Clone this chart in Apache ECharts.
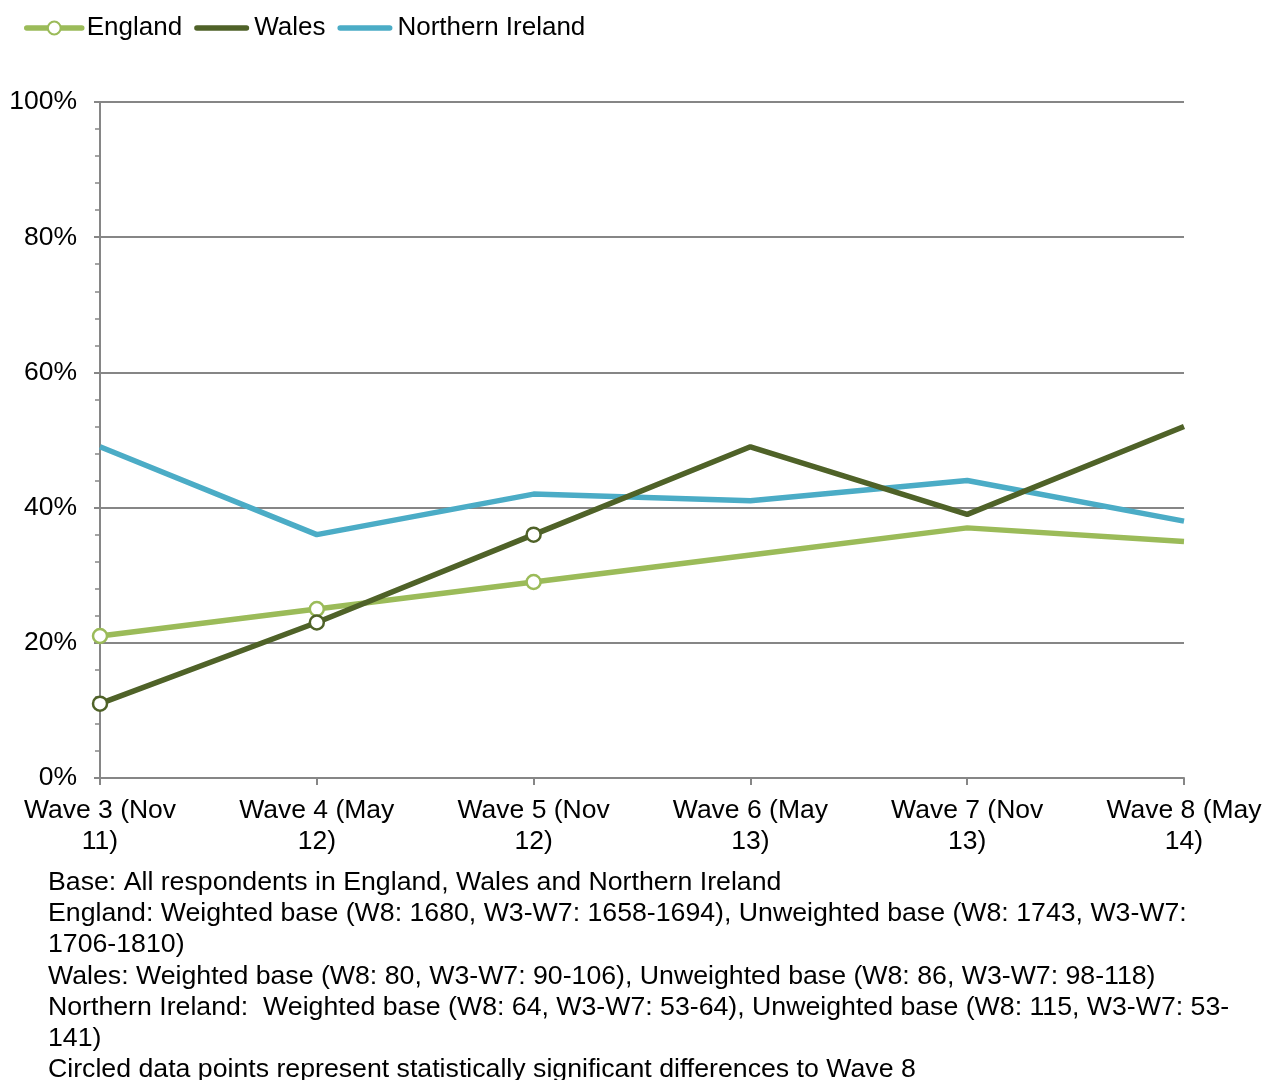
<!DOCTYPE html>
<html>
<head>
<meta charset="utf-8">
<script src="https://cdn.jsdelivr.net/npm/echarts@6/dist/echarts.min.js"></script>
<style>
  html, body { margin: 0; padding: 0; background: #fff; }
  #chart { width: 1265px; height: 1080px; }
</style>
</head>
<body>
<div id="chart"></div>
<script>
// Survey waves (x axis)
const waves = ['Wave 3 (Nov\n11)', 'Wave 4 (May\n12)', 'Wave 5 (Nov\n12)', 'Wave 6 (May\n13)', 'Wave 7 (Nov\n13)', 'Wave 8 (May\n14)'];

// Percentages per nation
const england = [21, 25, 29, 33, 37, 35];
const wales = [11, 23, 36, 49, 39, 52];
const northernIreland = [49, 36, 42, 41, 44, 38];

// Which points are significantly different from Wave 8 (drawn circled)
const englandCircled = [true, true, true, false, false, false];
const walesCircled = [true, true, true, false, false, false];

const footnotes = [
  'Base: All respondents in England, Wales and Northern Ireland',
  'England: Weighted base (W8: 1680, W3-W7: 1658-1694), Unweighted base (W8: 1743, W3-W7:\n1706-1810)',
  'Wales: Weighted base (W8: 80, W3-W7: 90-106), Unweighted base (W8: 86, W3-W7: 98-118)',
  'Northern Ireland:  Weighted base (W8: 64, W3-W7: 53-64), Unweighted base (W8: 115, W3-W7: 53-\n141)',
  'Circled data points represent statistically significant differences to Wave 8'
];

const FONT = 'Liberation Sans, Arial, sans-serif';
const GREY = '#868686';
const C_ENG = '#9BBB59';
const C_WAL = '#4F6228';
const C_NI = '#4BACC6';

// Plain rounded bar used as legend key for series without markers
const BAR_ICON = 'path://M2.75,0 L52.25,0 A2.75,2.75 0 0 1 52.25,5.5 L2.75,5.5 A2.75,2.75 0 0 1 2.75,0 Z';

function marked(values, circled) {
  return values.map((v, i) => ({ value: v, symbol: circled[i] ? 'circle' : 'none' }));
}

const chart = echarts.init(document.getElementById('chart'), null, { renderer: 'canvas' });

// Footnote block under the chart
const noteTops = [867, 898, 961, 992, 1054];
const graphics = footnotes.map((t, i) => ({
  type: 'text',
  left: 48,
  top: noteTops[i],
  style: { text: t, font: '26.7px ' + FONT, fill: '#000', lineHeight: 31 }
}));

chart.setOption({
  animation: false,
  backgroundColor: '#fff',
  textStyle: { fontFamily: FONT },
  legend: {
    left: 24,
    top: 15,
    padding: 0,
    itemWidth: 55,
    itemHeight: 16,
    itemGap: 12,
    symbolKeepAspect: true,
    textStyle: { fontSize: 26, color: '#000', fontFamily: FONT },
    data: [
      { name: 'England', lineStyle: { width: 5.5, cap: 'round' } },
      { name: 'Wales', icon: BAR_ICON, itemStyle: { color: C_WAL, borderWidth: 0 } },
      { name: 'Northern Ireland', icon: BAR_ICON, itemStyle: { color: C_NI, borderWidth: 0 } }
    ]
  },
  grid: { left: 100, right: 81, top: 102, bottom: 302, containLabel: false },
  xAxis: {
    type: 'category',
    data: waves,
    boundaryGap: false,
    axisLine: { lineStyle: { color: GREY, width: 2 } },
    axisTick: { alignWithLabel: true, length: 7, lineStyle: { color: GREY, width: 2 } },
    axisLabel: { color: '#000', fontSize: 26.5, lineHeight: 31, margin: 17, fontFamily: FONT, interval: 0 },
    splitLine: { show: false }
  },
  yAxis: {
    type: 'value',
    min: 0,
    max: 100,
    interval: 20,
    axisLine: { show: true, lineStyle: { color: GREY, width: 2 } },
    axisTick: { show: true, length: 6, lineStyle: { color: GREY, width: 2 } },
    minorTick: { show: true, splitNumber: 5, length: 5, lineStyle: { color: GREY, width: 1.5 } },
    axisLabel: { color: '#000', fontSize: 26.5, margin: 23, padding: [4, 0, 0, 0], fontFamily: FONT, formatter: '{value}%' },
    splitLine: { show: true, lineStyle: { color: GREY, width: 2 } }
  },
  series: [
    {
      name: 'England',
      type: 'line',
      data: marked(england, englandCircled),
      symbol: 'circle',
      symbolSize: 14,
      color: C_ENG,
      lineStyle: { width: 5.5, color: C_ENG },
      itemStyle: { color: '#fff', borderColor: C_ENG, borderWidth: 2.5 },
      z: 3
    },
    {
      name: 'Wales',
      type: 'line',
      data: marked(wales, walesCircled),
      symbol: 'none',
      symbolSize: 14,
      color: C_WAL,
      lineStyle: { width: 5.5, color: C_WAL },
      itemStyle: { color: '#fff', borderColor: C_WAL, borderWidth: 2.5 },
      z: 4
    },
    {
      name: 'Northern Ireland',
      type: 'line',
      data: northernIreland,
      symbol: 'none',
      color: C_NI,
      lineStyle: { width: 5.5, color: C_NI },
      itemStyle: { color: C_NI },
      z: 2
    }
  ],
  graphic: graphics
});
</script>
</body>
</html>
